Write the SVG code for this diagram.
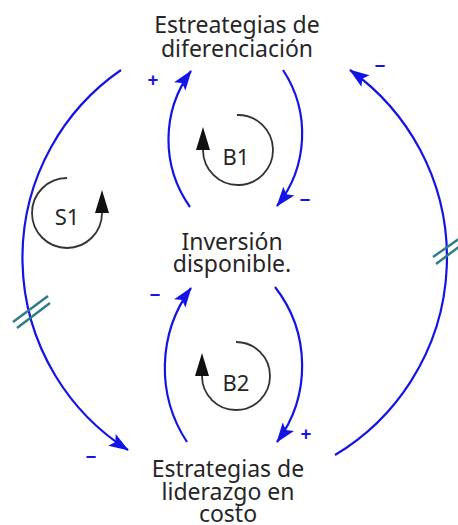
<svg xmlns="http://www.w3.org/2000/svg" width="458" height="525" viewBox="0 0 458 525">
<defs>
<style>
.lbl{font-family:"Noto Sans","Open Sans","DejaVu Sans",sans-serif;font-size:23px;fill:#262626;text-anchor:middle}
.loop{font-family:"Noto Sans","Open Sans","DejaVu Sans",sans-serif;font-size:22px;fill:#262626;text-anchor:middle}
.link{fill:none;stroke:#1414e6;stroke-width:2.2;marker-end:url(#ah)}
.pol{font-family:"Noto Sans","DejaVu Sans",sans-serif;font-size:19px;font-weight:bold;fill:#1414e6;text-anchor:middle}
.larc{fill:none;stroke:#333;stroke-width:1.8;marker-end:url(#la)}
.hash{stroke:#2f7d88;stroke-width:2.5}
</style>
<marker id="ah" markerUnits="userSpaceOnUse" viewBox="-20 -8 22 16" refX="0" refY="0" markerWidth="22" markerHeight="16" orient="auto" overflow="visible">
<path d="M1,0 L-19,-7 L-15,0 L-19,7 Z" fill="#1414e6"/>
</marker>
<marker id="la" markerUnits="userSpaceOnUse" viewBox="0 -8 24 16" refX="0" refY="0" markerWidth="24" markerHeight="16" orient="auto" overflow="visible">
<path d="M0,-7 L23,0 L0,7 Z" fill="#111"/>
</marker>
</defs>
<g id="connectors">
<path class="link" d="M121,70 A228,228 0 0 0 128,450"/>
<path class="link" d="M335,455 A230,230 0 0 0 350,70"/>
<path class="link" d="M190,207 A116,116 0 0 1 191,71"/>
<path class="link" d="M283,70 A116,116 0 0 1 277,206"/>
<path class="link" d="M187,442 A135,135 0 0 1 191,288"/>
<path class="link" d="M275,287 A128,128 0 0 1 277,442"/>
<line class="hash" x1="13" y1="322" x2="48" y2="296"/>
<line class="hash" x1="17" y1="328" x2="50" y2="303"/>
<line class="hash" x1="433" y1="257" x2="460" y2="238"/>
<line class="hash" x1="436" y1="264" x2="460" y2="246"/>
<text class="pol" x="153" y="87">+</text>
<text class="pol" x="380" y="73">−</text>
<text class="pol" x="305" y="207">−</text>
<text class="pol" x="155" y="302">−</text>
<text class="pol" x="306" y="441">+</text>
<text class="pol" x="91" y="464">−</text>
</g>
<g id="node-diferenciacion">
<text class="lbl" x="237" y="33">Estreategias de</text>
<text class="lbl" x="237" y="57">diferenciación</text>
</g>
<g id="node-inversion">
<text class="lbl" x="232" y="250">Inversión</text>
<text class="lbl" x="232" y="272">disponible.</text>
</g>
<g id="node-liderazgo">
<text class="lbl" x="228" y="477">Estrategias de</text>
<text class="lbl" x="228" y="500">liderazgo en</text>
<text class="lbl" x="228" y="522">costo</text>
</g>
<g id="loop-B1">
<path class="larc" d="M237,115 A35,35 0 1 1 203,150"/>
<text class="loop" x="236" y="165">B1</text>
</g>
<g id="loop-B2">
<path class="larc" d="M236,342 A34,34 0 1 1 202,376"/>
<text class="loop" x="236" y="391">B2</text>
</g>
<g id="loop-S1">
<path class="larc" d="M67,178 A35,35 0 1 0 102,213"/>
<text class="loop" x="67" y="225">S1</text>
</g>
</svg>
